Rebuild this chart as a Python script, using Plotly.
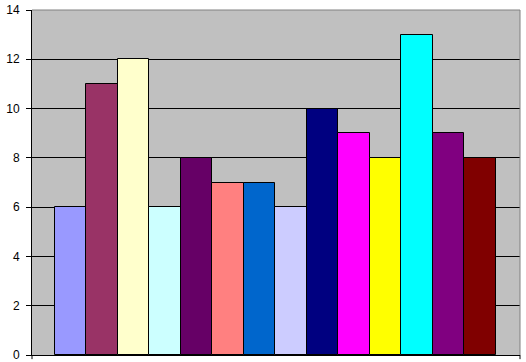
import plotly.graph_objects as go

categories = [f"S{i}" for i in range(1, 15)]
values = [6, 11, 12, 6, 8, 7, 7, 6, 10, 9, 8, 13, 9, 8]
colors = ["#9999FF", "#993366", "#FFFFCC", "#CCFFFF", "#660066", "#FF8080", "#0066CC",
          "#CCCCFF", "#000080", "#FF00FF", "#FFFF00", "#00FFFF", "#800080", "#800000"]
y_ticks = [0, 2, 4, 6, 8, 10, 12, 14]

fig = go.Figure()
fig.add_trace(go.Bar(
    x=categories, y=values,
    marker=dict(color=colors, line=dict(color="#000000", width=1)),
    width=1.0,
))

fig.update_layout(
    width=526, height=362,
    margin=dict(l=32, r=6, t=10, b=7),
    paper_bgcolor="#FFFFFF",
    plot_bgcolor="#C0C0C0",
    bargap=0,
    showlegend=False,
    font=dict(family="Liberation Sans, Arial", size=12, color="#000000"),
    xaxis=dict(
        range=[-1.22, 14.27],
        showticklabels=False,
        showgrid=False,
        zeroline=False,
        showline=True, linecolor="#000000", linewidth=1,
        mirror=False,
        automargin=False,
        fixedrange=True,
    ),
    yaxis=dict(
        range=[0, 14],
        tickvals=y_ticks,
        ticks="outside", ticklen=5, tickcolor="#000000", tickwidth=1,
        showgrid=True, gridcolor="#000000", gridwidth=1,
        zeroline=False,
        showline=True, linecolor="#000000", linewidth=1,
        ticklabelstandoff=4,
        ticklabeloverflow="allow",
        automargin=False,
        fixedrange=True,
    ),
    shapes=[
        dict(type="line", xref="paper", yref="paper", x0=0, x1=1, y0=1, y1=1,
             line=dict(color="#808080", width=1)),
        dict(type="line", xref="paper", yref="paper", x0=1, x1=1, y0=0, y1=1,
             line=dict(color="#808080", width=1)),
        dict(type="line", xref="paper", yref="paper", x0=1, x1=1, y0=0, y1=-0.012,
             line=dict(color="#000000", width=1)),
        dict(type="line", xref="paper", yref="paper", x0=0, x1=0, y0=0, y1=-0.012,
             line=dict(color="#000000", width=1)),
    ],
)

fig.write_html("out.html", config={"displayModeBar": False})
